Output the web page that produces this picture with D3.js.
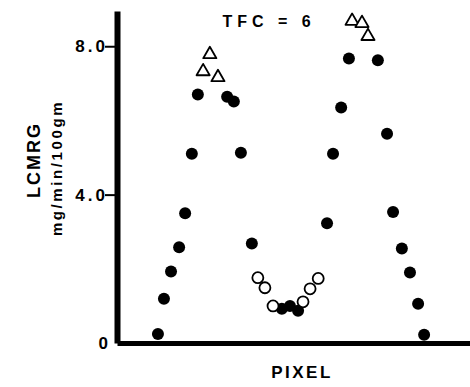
<!DOCTYPE html>
<html>
<head>
<meta charset="utf-8">
<script src="https://cdn.jsdelivr.net/npm/d3@7"></script>
<style>
  html, body { margin: 0; padding: 0; background: #fff; }
  svg { display: block; font-family: "Liberation Sans", Arial, Helvetica, sans-serif; }
</style>
</head>
<body>
<svg id="chart" width="470" height="387"></svg>
<script>
// ---- Data (x in arbitrary pixel-position units 0..100, y in mg/min/100gm) ----
const filledX = [11.6, 13.3, 15.3, 17.6, 19.3, 21.2, 22.9, 31.2, 33.1, 35.1, 38.2,
                 46.7, 49.0, 51.3, 59.5, 61.2, 63.5, 65.7, 73.9, 76.5, 78.2, 80.7, 83.0, 85.3, 87.0];
const filledY = [0.24, 1.19, 1.93, 2.58, 3.50, 5.10, 6.70, 6.64, 6.51, 5.13, 2.68,
                 0.92, 1.00, 0.87, 3.23, 5.10, 6.35, 7.67, 7.62, 5.64, 3.53, 2.55, 1.90, 1.06, 0.22];
const openX = [39.9, 41.9, 44.2, 52.7, 54.7, 57.0];
const openY = [1.76, 1.49, 1.00, 1.11, 1.46, 1.74];
const triX = [24.4, 26.3, 28.6, 66.6, 69.4, 71.1];
const triY = [7.32, 7.78, 7.16, 8.68, 8.62, 8.27];
const yTicks = [0, 4, 8];
const yTickLabels = ["0", "4.0", "8.0"];

const svg = d3.select("#chart");
const x = d3.scaleLinear().domain([0, 100]).range([117, 470]);
const y = d3.scaleLinear().domain([0, 8.95]).range([343, 11]);

// Y axis
const yAxis = d3.axisLeft(y)
  .tickValues(yTicks)
  .tickFormat((d, i) => yTickLabels[i])
  .tickSize(12)
  .tickSizeOuter(0)
  .tickPadding(0);
const gy = svg.append("g").attr("transform", `translate(${x(0)},0)`).call(yAxis);
gy.select(".domain").attr("stroke", "#000").attr("stroke-width", 6);
gy.selectAll(".tick line").attr("stroke", "#000").attr("stroke-width", 2)
  .attr("stroke-opacity", d => d === 0 ? 0 : 1);
gy.selectAll(".tick text")
  .attr("x", d => d === 0 ? -6 : -9)
  .attr("fill", "#000")
  .style("font-size", "17px")
  .style("font-weight", "bold")
  .style("letter-spacing", "3px")
  .style("font-family", '"Liberation Sans", Arial, sans-serif');

// X axis (no ticks)
const xAxis = d3.axisBottom(x).tickValues([]).tickSizeOuter(0);
const gx = svg.append("g").attr("transform", `translate(0,${y(0)})`).call(xAxis);
gx.select(".domain").attr("stroke", "#000").attr("stroke-width", 5);

// Y axis titles
svg.append("text")
  .attr("transform", "translate(34,160) rotate(-90)")
  .attr("text-anchor", "middle")
  .attr("dominant-baseline", "central")
  .style("font-size", "18px").style("font-weight", "bold").style("letter-spacing", "2px")
  .text("LCMRG");
svg.append("text")
  .attr("transform", "translate(56,168) rotate(-90)")
  .attr("text-anchor", "middle")
  .attr("dominant-baseline", "central")
  .style("font-size", "15px").style("font-weight", "bold").style("letter-spacing", "2.6px")
  .text("mg/min/100gm");

// X axis title
svg.append("text")
  .attr("x", 302).attr("y", 378)
  .attr("text-anchor", "middle")
  .style("font-size", "17px").style("font-weight", "bold").style("letter-spacing", "2.5px")
  .text("PIXEL");

// Annotation
svg.append("text")
  .attr("x", 269).attr("y", 27)
  .attr("text-anchor", "middle")
  .style("font-size", "16px").style("font-weight", "bold").style("letter-spacing", "5px")
  .text("TFC = 6");

// Filled circles
svg.append("g").selectAll("circle")
  .data(d3.range(filledX.length))
  .join("circle")
  .attr("cx", i => x(filledX[i]))
  .attr("cy", i => y(filledY[i]))
  .attr("r", 6)
  .attr("fill", "#000");

// Open circles
svg.append("g").selectAll("circle")
  .data(d3.range(openX.length))
  .join("circle")
  .attr("cx", i => x(openX[i]))
  .attr("cy", i => y(openY[i]))
  .attr("r", 5.5)
  .attr("fill", "#fff")
  .attr("stroke", "#000")
  .attr("stroke-width", 1.8);

// Open triangles
const tri = d3.symbol(d3.symbolTriangle, 75);
svg.append("g").selectAll("path")
  .data(d3.range(triX.length))
  .join("path")
  .attr("d", tri)
  .attr("transform", i => `translate(${x(triX[i])},${y(triY[i])})`)
  .attr("fill", "#fff")
  .attr("stroke", "#000")
  .attr("stroke-width", 1.8)
  .attr("stroke-linejoin", "round");
</script>
</body>
</html>
